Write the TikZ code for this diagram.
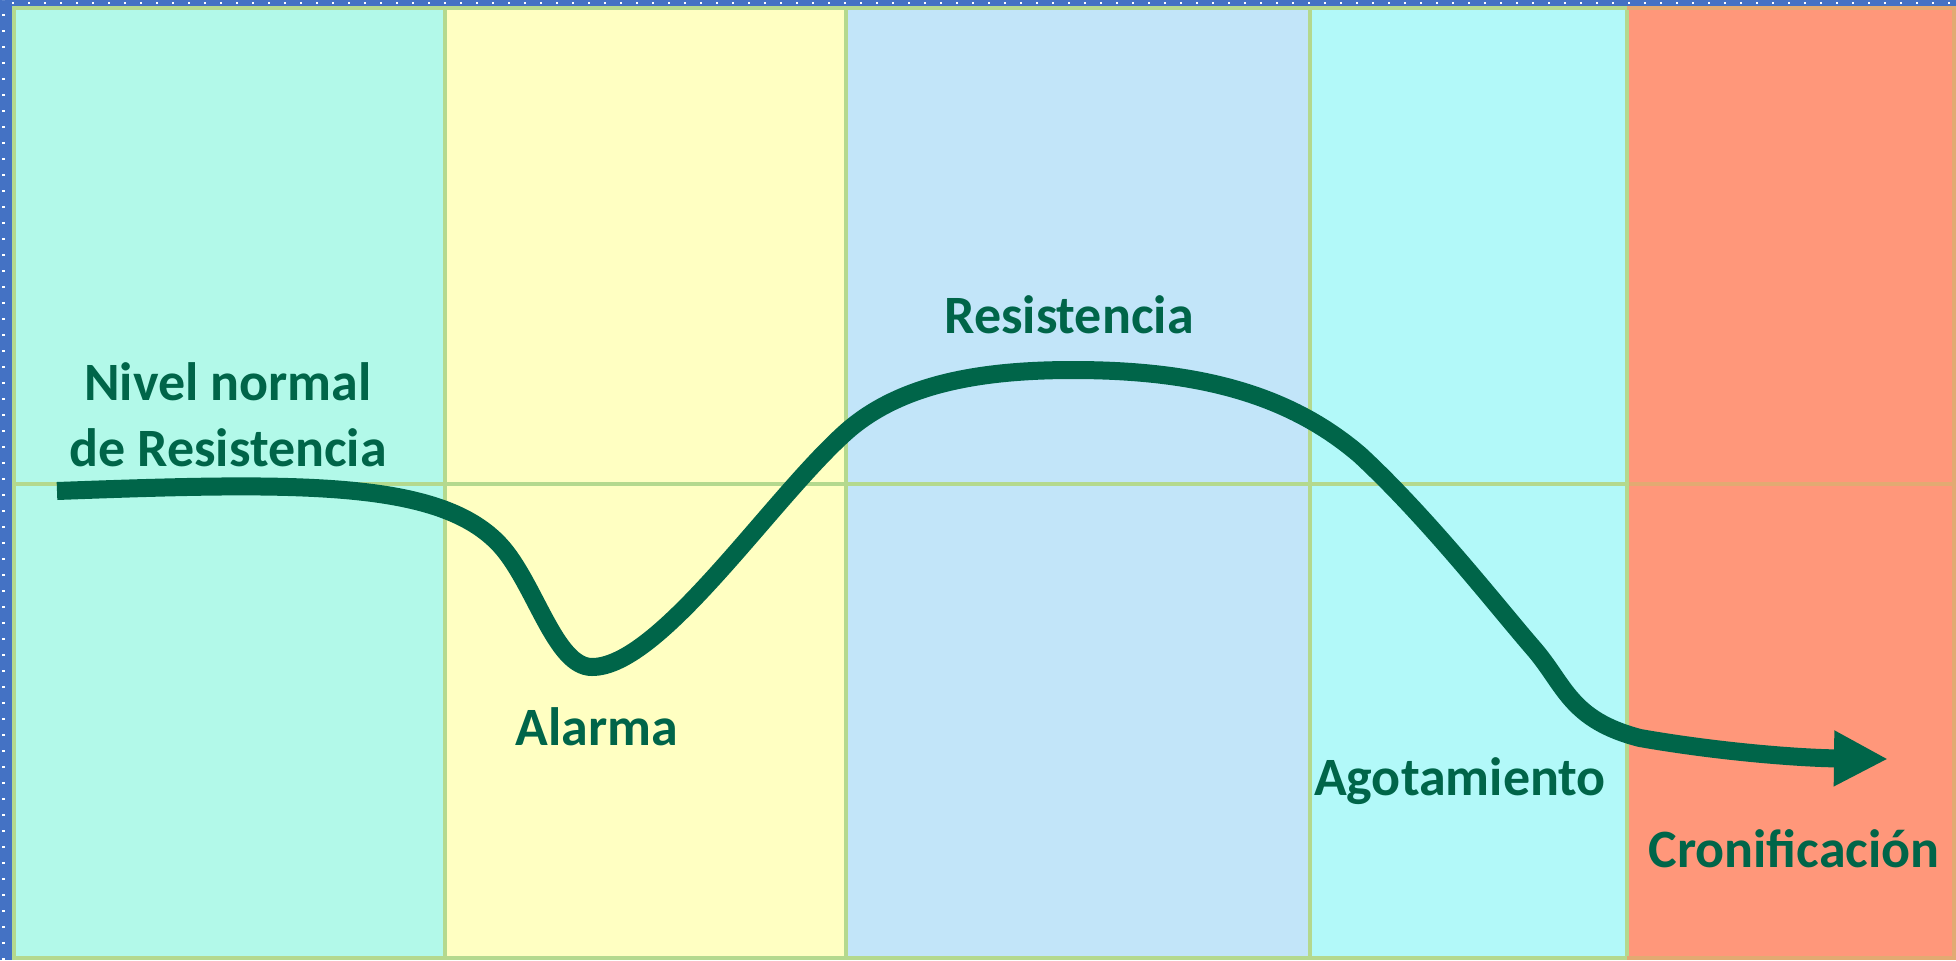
\documentclass[tikz,border=0pt]{standalone}
\usepackage{fontspec}
\setmainfont{Carlito}
\usetikzlibrary{arrows.meta}
\definecolor{colA}{HTML}{B2F9E9}
\definecolor{colB}{HTML}{FFFFC2}
\definecolor{colC}{HTML}{C2E5F9}
\definecolor{colD}{HTML}{B2F9F9}
\definecolor{colE}{HTML}{FF977A}
\definecolor{gridg}{HTML}{B4D98E}
\definecolor{gridt}{HTML}{E2AA72}
\definecolor{curveg}{HTML}{006549}
\definecolor{bordb}{HTML}{4472C4}
\tikzset{
  lbl/.style={font=\bfseries\fontsize{27}{33}\selectfont, text=curveg, inner sep=0pt, align=center},
  gridline/.style={line width=2pt, draw=gridg},
  curve/.style={line width=9pt, draw=curveg, -{Triangle[length=27pt,width=26pt]}}
}
\begin{document}
\begin{tikzpicture}[x=0.5pt,y=-0.5pt]
\useasboundingbox (0,0) rectangle (1956,960);
% border
\fill[bordb] (0,0) rectangle (1956,960);
% columns
\fill[colA] (12,6) rectangle (445,960);
\fill[colB] (445,6) rectangle (846,960);
\fill[colC] (846,6) rectangle (1310,960);
\fill[colD] (1310,6) rectangle (1627,960);
\fill[colE] (1627,6) rectangle (1956,960);
% border dots
\draw[white, line width=1.2pt, dash pattern=on 1.2pt off 6.8pt] (3.5,960) -- (3.5,0);
\draw[white, line width=1.2pt, dash pattern=on 1.2pt off 6.8pt] (12,3) -- (1956,3);
% grid
\draw[gridline] (12,484) -- (1627,484);
\draw[gridline, draw=gridt] (1627,484) -- (1956,484);
\draw[gridline] (445,6) -- (445,960);
\draw[gridline] (846,6) -- (846,960);
\draw[gridline] (1310,6) -- (1310,960);
\draw[gridline] (1627,6) -- (1627,960);
\draw[gridline] (14,6) -- (14,960);
\draw[gridline] (12,8) -- (1627,8);
\draw[gridline, draw=gridt] (1627,8) -- (1956,8);
\draw[gridline] (12,958) -- (1627,958);
\draw[gridline, draw=gridt] (1627,958) -- (1956,958);
\draw[gridline, draw=gridt] (1954,6) -- (1954,960);
% curve
\coordinate (s) at (57,491);
\coordinate (b) at (500,545);
\coordinate (c) at (592,667);
\coordinate (d) at (846,432);
\coordinate (p) at (1073,370);
\coordinate (f) at (1360,455);
\coordinate (g) at (1534,649);
\coordinate (h) at (1640,738);
\coordinate (e) at (1888,759);
\draw[curve] (s) .. controls (300,482) and (440,480) .. (b)
  .. controls (535,583) and (555,667) .. (c)
  .. controls (660,667) and (770,500) .. (d)
  .. controls (900,384) and (980,370) .. (p)
  .. controls (1200,370) and (1290,395) .. (f)
  .. controls (1430,520) and (1500,610) .. (g)
  .. controls (1565,685) and (1570,720) .. (h)
  .. controls (1720,752) and (1800,758) .. (e);
% labels
\node[lbl] (nivel) at (228,415) {Nivel normal\\de Resistencia};
\node[lbl, anchor=base] (res) at (1069,333) {Resistencia};
\node[lbl, anchor=base] (alar) at (597,745) {Alarma};
\node[lbl, anchor=base] (agot) at (1460,795) {Agotamiento};
\node[lbl, anchor=base] (cron) at (1794,867) {Cronificación};
\end{tikzpicture}
\end{document}
